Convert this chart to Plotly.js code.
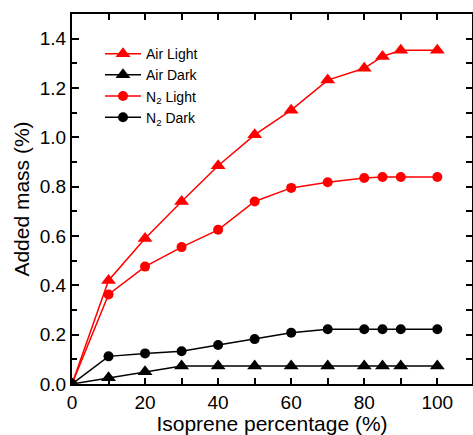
<!DOCTYPE html>
<html>
<head>
<meta charset="utf-8">
<script src="https://cdn.plot.ly/plotly-3.0.1.min.js"></script>
<style>html,body{margin:0;padding:0;background:#fff;}#chart{width:473px;height:435px;}</style>
</head>
<body>
<div id="chart"></div>
<script>
const isoprene = [0, 10, 20, 30, 40, 50, 60, 70, 80, 85, 90, 100];
const airLight = [0, 0.42, 0.59, 0.74, 0.885, 1.01, 1.11, 1.232, 1.28, 1.328, 1.353, 1.353];
const airDark  = [0, 0.025, 0.05, 0.073, 0.073, 0.073, 0.073, 0.073, 0.073, 0.073, 0.073, 0.073];
const n2Light  = [0, 0.363, 0.476, 0.555, 0.625, 0.74, 0.795, 0.818, 0.835, 0.839, 0.839, 0.839];
const n2Dark   = [0, 0.112, 0.124, 0.133, 0.158, 0.182, 0.208, 0.222, 0.222, 0.222, 0.222, 0.222];
const seriesNames = ['Air Light', 'Air Dark', 'N<sub>2</sub> Light', 'N<sub>2</sub> Dark'];

const RED = '#ff0000', BLACK = '#000000';
function tr(y, name, color, symbol, size) {
  return {x: isoprene, y: y, name: name, type: 'scatter', mode: 'lines+markers',
    line: {color: color, width: 1.5}, marker: {color: color, symbol: symbol, size: size}};
}
const data = [
  tr(airLight, seriesNames[0], RED, 'triangle-up', 13),
  tr(airDark, seriesNames[1], BLACK, 'triangle-up', 13),
  tr(n2Light, seriesNames[2], RED, 'circle', 10),
  tr(n2Dark, seriesNames[3], BLACK, 'circle', 10)
];
const FAM = 'Liberation Sans, Arial, sans-serif';
const font = {family: FAM, color: '#000'};
const layout = {
  width: 473, height: 435,
  margin: {l: 72, r: 1, t: 14, b: 51},
  paper_bgcolor: '#fff', plot_bgcolor: '#fff',
  font: font,
  showlegend: true,
  legend: {x: 0.07, y: 0.935, xanchor: 'left', yanchor: 'top', bgcolor: 'rgba(0,0,0,0)',
    font: {family: FAM, size: 14, color: '#000'}, tracegroupgap: 0, itemwidth: 36},
  xaxis: {range: [0, 109.5], showgrid: false, zeroline: false, showline: true, linecolor: '#000', linewidth: 2,
    ticks: 'inside', ticklen: 6, tickwidth: 2, tickcolor: '#000', dtick: 20, tick0: 0,
    minor: {dtick: 10, ticks: 'inside', ticklen: 6, tickwidth: 2, tickcolor: '#000', showgrid: false},
    tickfont: {size: 19, family: FAM},
    title: {text: 'Isoprene percentage (%)', font: {size: 21, family: FAM}, standoff: 25}},
  yaxis: {range: [0, 1.5], showgrid: false, zeroline: false, showline: true, linecolor: '#000', linewidth: 2,
    ticks: 'inside', ticklen: 7, tickwidth: 2, tickcolor: '#000', dtick: 0.2, tick0: 0, tickformat: '.1f',
    minor: {dtick: 0.1, ticks: 'inside', ticklen: 5, tickwidth: 2, tickcolor: '#000', showgrid: false},
    tickfont: {size: 19, family: FAM},
    title: {text: 'Added mass (%)', font: {size: 21, family: FAM}, standoff: 4}},
  xaxis2: {overlaying: 'x', side: 'top', range: [0, 109.5], showgrid: false, zeroline: false, showline: true,
    linecolor: '#000', linewidth: 2, ticks: 'inside', ticklen: 6, tickwidth: 2, tickcolor: '#000', dtick: 10, tick0: 0,
    showticklabels: false},
  yaxis2: {overlaying: 'y', side: 'right', range: [0, 1.5], showgrid: false, zeroline: false, showline: true,
    linecolor: '#000', linewidth: 2, ticks: 'inside', ticklen: 6, tickwidth: 2, tickcolor: '#000', dtick: 0.1, tick0: 0,
    showticklabels: false}
};
data.push({x: [0], y: [0], xaxis: 'x2', yaxis: 'y2', type: 'scatter', mode: 'markers',
  marker: {opacity: 0}, showlegend: false, hoverinfo: 'skip'});
Plotly.newPlot('chart', data, layout, {displayModeBar: false, staticPlot: true});
</script>
</body>
</html>
